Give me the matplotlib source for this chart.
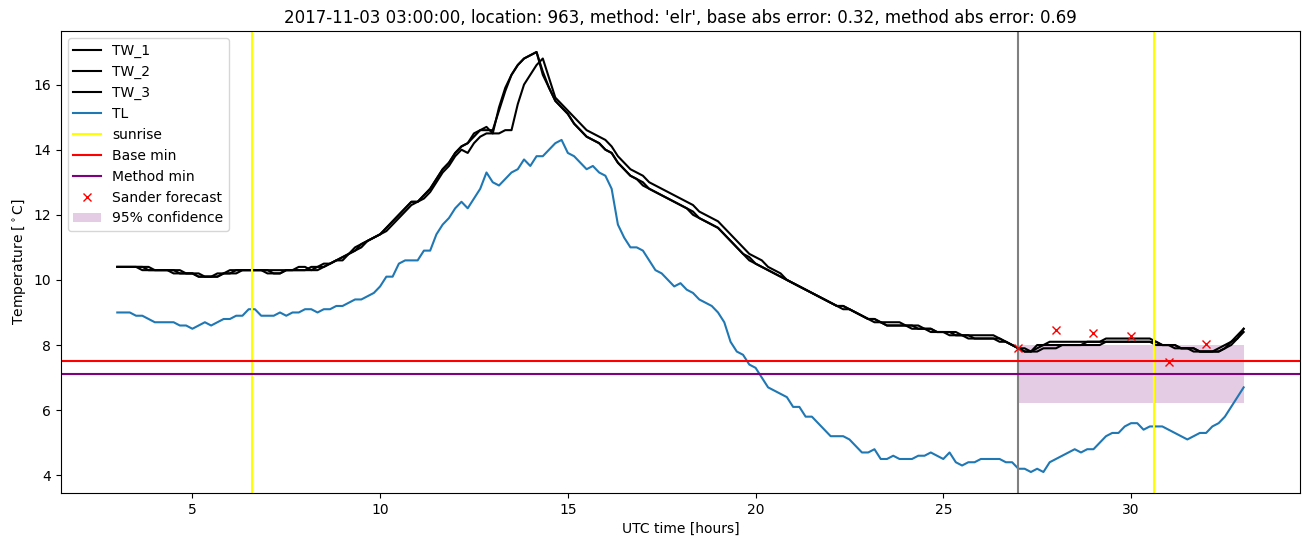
import numpy as np
import matplotlib
matplotlib.use("Agg")
import matplotlib.pyplot as plt

# time axis: 10-minute steps from 03:00 to 33:00 UTC
hours = np.round(np.arange(3, 33.001, 1 / 6), 4)

TW_1 = [
    10.4, 10.4, 10.4, 10.4, 10.4, 10.3,
    10.3, 10.3, 10.3, 10.2, 10.2, 10.2,
    10.2, 10.1, 10.1, 10.1, 10.1, 10.2,
    10.3, 10.3, 10.3, 10.3, 10.3, 10.3,
    10.2, 10.2, 10.2, 10.3, 10.3, 10.3,
    10.3, 10.3, 10.4, 10.5, 10.5, 10.6,
    10.7, 10.8, 11.0, 11.1, 11.2, 11.3,
    11.4, 11.6, 11.8, 12.0, 12.2, 12.4,
    12.4, 12.6, 12.8, 13.1, 13.4, 13.6,
    13.9, 14.1, 14.2, 14.4, 14.6, 14.7,
    14.5, 15.3, 15.9, 16.3, 16.6, 16.8,
    16.9, 17.0, 16.4, 15.9, 15.5, 15.3,
    15.1, 14.8, 14.6, 14.4, 14.3, 14.2,
    14.0, 13.9, 13.6, 13.4, 13.2, 13.1,
    13.0, 12.8, 12.7, 12.6, 12.5, 12.4,
    12.3, 12.2, 12.1, 11.9, 11.8, 11.7,
    11.6, 11.4, 11.2, 11.0, 10.8, 10.6,
    10.5, 10.4, 10.3, 10.2, 10.1, 10.0,
    9.9, 9.8, 9.7, 9.6, 9.5, 9.4,
    9.3, 9.2, 9.2, 9.1, 9.0, 8.9,
    8.8, 8.8, 8.7, 8.6, 8.6, 8.6,
    8.6, 8.5, 8.5, 8.5, 8.4, 8.4,
    8.4, 8.3, 8.3, 8.3, 8.2, 8.2,
    8.2, 8.2, 8.2, 8.2, 8.1, 8.0,
    7.9, 7.8, 7.8, 7.8, 7.9, 7.9,
    7.9, 8.0, 8.0, 8.0, 8.0, 8.0,
    8.0, 8.0, 8.1, 8.1, 8.1, 8.1,
    8.1, 8.1, 8.1, 8.1, 8.1, 8.0,
    8.0, 7.9, 7.9, 7.9, 7.8, 7.8,
    7.8, 7.8, 7.8, 7.9, 8.0, 8.2,
    8.4,
]

TW_2 = [
    10.4, 10.4, 10.4, 10.4, 10.3, 10.3,
    10.3, 10.3, 10.3, 10.3, 10.3, 10.2,
    10.2, 10.2, 10.1, 10.1, 10.1, 10.2,
    10.2, 10.2, 10.3, 10.3, 10.3, 10.3,
    10.3, 10.2, 10.2, 10.3, 10.3, 10.4,
    10.4, 10.3, 10.3, 10.4, 10.5, 10.6,
    10.7, 10.8, 10.9, 11.1, 11.2, 11.3,
    11.4, 11.6, 11.8, 12.0, 12.2, 12.4,
    12.4, 12.6, 12.8, 13.1, 13.4, 13.6,
    13.9, 14.1, 14.2, 14.5, 14.6, 14.6,
    14.6, 15.2, 15.8, 16.3, 16.6, 16.8,
    16.9, 17.0, 16.3, 15.9, 15.5, 15.3,
    15.1, 14.8, 14.6, 14.4, 14.3, 14.2,
    14.0, 13.9, 13.6, 13.4, 13.2, 13.1,
    12.9, 12.8, 12.7, 12.6, 12.5, 12.4,
    12.3, 12.2, 12.0, 11.9, 11.8, 11.7,
    11.6, 11.4, 11.2, 11.0, 10.8, 10.7,
    10.5, 10.4, 10.3, 10.2, 10.1, 10.0,
    9.9, 9.8, 9.7, 9.6, 9.5, 9.4,
    9.3, 9.2, 9.1, 9.1, 9.0, 8.9,
    8.8, 8.7, 8.7, 8.6, 8.6, 8.6,
    8.6, 8.6, 8.5, 8.5, 8.5, 8.4,
    8.4, 8.4, 8.3, 8.3, 8.3, 8.2,
    8.2, 8.2, 8.2, 8.1, 8.1, 8.0,
    7.9, 7.9, 7.8, 7.9, 8.0, 8.0,
    8.0, 8.0, 8.0, 8.0, 8.0, 8.1,
    8.1, 8.1, 8.1, 8.1, 8.1, 8.1,
    8.1, 8.1, 8.1, 8.1, 8.0, 8.0,
    8.0, 8.0, 7.9, 7.9, 7.9, 7.8,
    7.8, 7.8, 7.9, 8.0, 8.1, 8.2,
    8.5,
]

TW_3 = [
    10.4, 10.4, 10.4, 10.4, 10.4, 10.4,
    10.3, 10.3, 10.3, 10.3, 10.2, 10.2,
    10.2, 10.1, 10.1, 10.1, 10.2, 10.2,
    10.2, 10.3, 10.3, 10.3, 10.3, 10.3,
    10.3, 10.3, 10.3, 10.3, 10.3, 10.3,
    10.3, 10.4, 10.4, 10.4, 10.5, 10.6,
    10.6, 10.8, 10.9, 11.0, 11.2, 11.3,
    11.4, 11.5, 11.7, 11.9, 12.1, 12.3,
    12.4, 12.5, 12.7, 13.0, 13.3, 13.5,
    13.8, 14.0, 13.9, 14.2, 14.4, 14.5,
    14.5, 14.5, 14.6, 14.6, 15.4, 16.0,
    16.3, 16.6, 16.8, 16.2, 15.6, 15.4,
    15.2, 15.0, 14.8, 14.6, 14.5, 14.4,
    14.3, 14.1, 13.8, 13.6, 13.4, 13.3,
    13.2, 13.0, 12.9, 12.8, 12.7, 12.6,
    12.5, 12.4, 12.3, 12.1, 12.0, 11.9,
    11.8, 11.6, 11.4, 11.2, 11.0, 10.8,
    10.7, 10.6, 10.4, 10.3, 10.2, 10.0,
    9.9, 9.8, 9.7, 9.6, 9.5, 9.4,
    9.3, 9.2, 9.2, 9.1, 9.0, 8.9,
    8.8, 8.8, 8.7, 8.7, 8.7, 8.7,
    8.6, 8.6, 8.6, 8.5, 8.5, 8.4,
    8.4, 8.4, 8.4, 8.3, 8.3, 8.3,
    8.3, 8.3, 8.3, 8.2, 8.1, 8.0,
    7.9, 7.8, 7.8, 8.0, 8.0, 8.1,
    8.1, 8.1, 8.1, 8.1, 8.1, 8.1,
    8.1, 8.1, 8.2, 8.2, 8.2, 8.2,
    8.2, 8.2, 8.2, 8.2, 8.1, 8.0,
    8.0, 8.0, 7.9, 7.9, 7.9, 7.8,
    7.8, 7.8, 7.8, 7.9, 8.1, 8.3,
    8.5,
]

TL = [
    9.0, 9.0, 9.0, 8.9, 8.9, 8.8,
    8.7, 8.7, 8.7, 8.7, 8.6, 8.6,
    8.5, 8.6, 8.7, 8.6, 8.7, 8.8,
    8.8, 8.9, 8.9, 9.1, 9.1, 8.9,
    8.9, 8.9, 9.0, 8.9, 9.0, 9.0,
    9.1, 9.1, 9.0, 9.1, 9.1, 9.2,
    9.2, 9.3, 9.4, 9.4, 9.5, 9.6,
    9.8, 10.1, 10.1, 10.5, 10.6, 10.6,
    10.6, 10.9, 10.9, 11.4, 11.7, 11.9,
    12.2, 12.4, 12.2, 12.5, 12.8, 13.3,
    13.0, 12.9, 13.1, 13.3, 13.4, 13.7,
    13.5, 13.8, 13.8, 14.0, 14.2, 14.3,
    13.9, 13.8, 13.6, 13.4, 13.5, 13.3,
    13.2, 12.8, 11.7, 11.3, 11.0, 11.0,
    10.9, 10.6, 10.3, 10.2, 10.0, 9.8,
    9.9, 9.7, 9.6, 9.4, 9.3, 9.2,
    9.0, 8.7, 8.1, 7.8, 7.7, 7.4,
    7.3, 7.0, 6.7, 6.6, 6.5, 6.4,
    6.1, 6.1, 5.8, 5.8, 5.6, 5.4,
    5.2, 5.2, 5.2, 5.1, 4.9, 4.7,
    4.7, 4.8, 4.5, 4.5, 4.6, 4.5,
    4.5, 4.5, 4.6, 4.6, 4.7, 4.6,
    4.5, 4.7, 4.4, 4.3, 4.4, 4.4,
    4.5, 4.5, 4.5, 4.5, 4.4, 4.4,
    4.2, 4.2, 4.1, 4.2, 4.1, 4.4,
    4.5, 4.6, 4.7, 4.8, 4.7, 4.8,
    4.8, 5.0, 5.2, 5.3, 5.3, 5.5,
    5.6, 5.6, 5.4, 5.5, 5.5, 5.5,
    5.4, 5.3, 5.2, 5.1, 5.2, 5.3,
    5.3, 5.5, 5.6, 5.8, 6.1, 6.4,
    6.7,
]

sunrise_hours = [6.6, 30.6]
forecast_start = 27.0
base_min = 7.5
method_min = 7.11

forecast_hours = [27, 28, 29, 30, 31, 32]
sander_forecast = [7.9, 8.45, 8.37, 8.27, 7.47, 8.03]

conf_hours = [27, 33]
conf_low = [6.22, 6.22]
conf_high = [8.01, 8.01]

title = ("2017-11-03 03:00:00, location: 963, method: 'elr', "
         "base abs error: 0.32, method abs error: 0.69")

fig = plt.figure(figsize=(13.11, 5.47), dpi=100)
ax = fig.add_subplot(111)
fig.subplots_adjust(left=0.0465, right=0.9916, bottom=0.0987, top=0.9433)

ax.plot(hours, TW_1, color="black", label="TW_1")
ax.plot(hours, TW_2, color="black", label="TW_2")
ax.plot(hours, TW_3, color="black", label="TW_3")
ax.plot(hours, TL, color="C0", label="TL")
for i, s in enumerate(sunrise_hours):
    ax.axvline(s, color="yellow", label="sunrise" if i == 0 else None)
ax.axvline(forecast_start, color="grey")
ax.axhline(base_min, color="red", label="Base min")
ax.axhline(method_min, color="purple", label="Method min")
ax.plot(forecast_hours, sander_forecast, "x", color="red", linestyle="none",
        label="Sander forecast")
ax.fill_between(conf_hours, conf_low, conf_high, color="purple", alpha=0.2,
                linewidth=0, label="95% confidence")

ax.set_title(title)
ax.set_xlabel("UTC time [hours]")
ax.set_ylabel(r"Temperature [$^\circ$C]")
ax.legend(loc="upper left")

fig.savefig("out.png", dpi=100)
